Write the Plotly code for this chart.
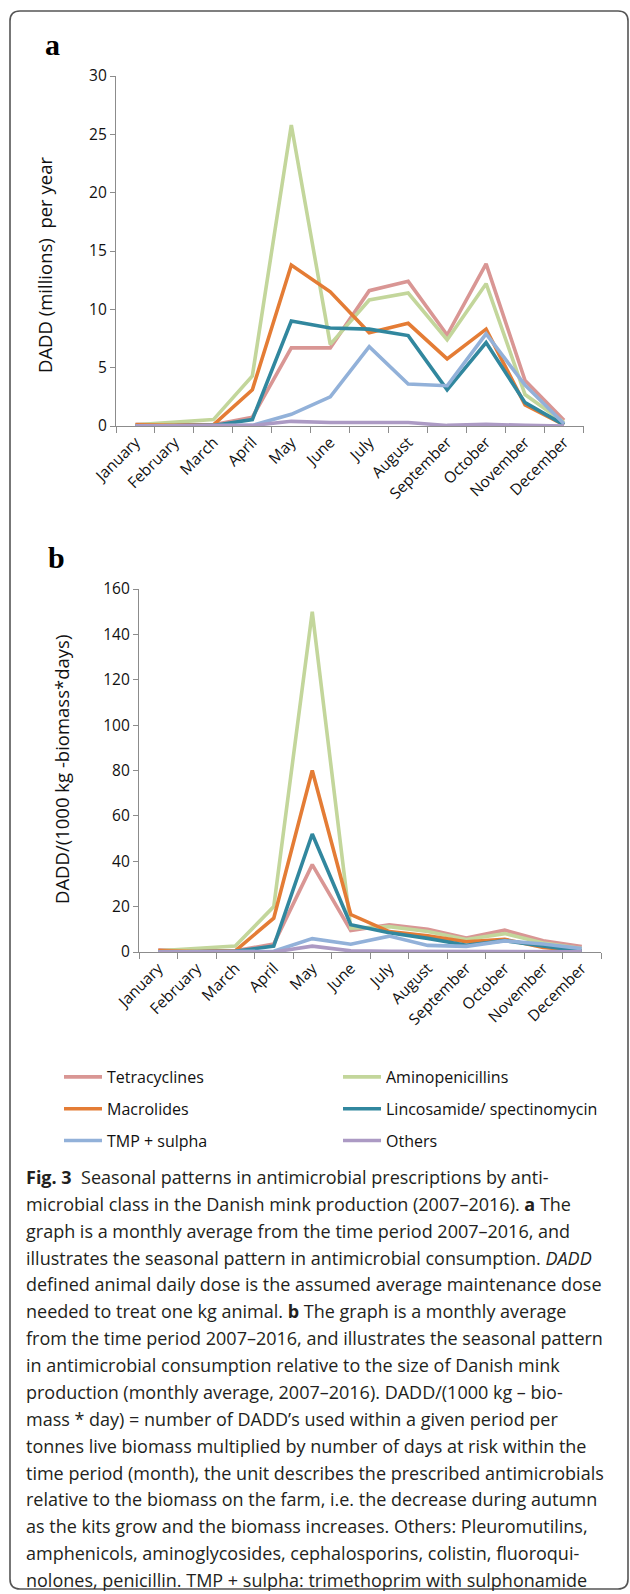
import plotly.graph_objects as go

months = ["January", "February", "March", "April", "May", "June", "July",
          "August", "September", "October", "November", "December"]

series_names = ["Tetracyclines", "Aminopenicillins", "Macrolides",
                "Lincosamide/ spectinomycin", "TMP + sulpha", "Others"]
colors = ["#D99694", "#C3D69B", "#E47C35", "#31879E", "#92B1D9", "#AC9AC4"]

# Panel a: DADD (millions) per year
a_tetra = [0.15, 0.1, 0.1, 0.75, 6.7, 6.7, 11.6, 12.4, 7.8, 13.9, 3.9, 0.5]
a_amino = [0.1, 0.3, 0.55, 4.3, 25.8, 7.0, 10.8, 11.4, 7.4, 12.2, 2.7, 0.3]
a_macro = [0.1, 0.05, 0.1, 3.1, 13.8, 11.5, 8.0, 8.8, 5.75, 8.3, 1.8, 0.1]
a_linco = [0.0, 0.0, 0.05, 0.55, 9.0, 8.4, 8.3, 7.75, 3.1, 7.15, 2.0, 0.1]
a_tmp = [0.0, 0.0, 0.0, 0.05, 1.0, 2.5, 6.8, 3.6, 3.45, 7.9, 3.5, 0.2]
a_other = [0.0, 0.0, 0.0, 0.05, 0.4, 0.3, 0.3, 0.3, 0.05, 0.15, 0.05, 0.0]

# Panel b: DADD/(1000 kg biomass*days)
b_tetra = [1.0, 0.5, 0.5, 3.5, 38.5, 9.5, 12.0, 10.0, 6.2, 9.6, 5.0, 2.4]
b_amino = [0.5, 1.5, 2.6, 20.0, 150.0, 10.5, 11.2, 9.0, 5.5, 8.1, 4.0, 1.5]
b_macro = [0.5, 0.2, 0.5, 14.9, 80.0, 16.5, 9.0, 7.1, 4.5, 5.6, 2.0, 0.5]
b_linco = [0.0, 0.0, 0.3, 2.6, 52.0, 12.0, 8.5, 6.0, 3.0, 5.0, 2.5, 0.3]
b_tmp = [0.0, 0.0, 0.0, 0.3, 5.9, 3.4, 7.0, 2.9, 2.5, 4.9, 3.5, 1.5]
b_other = [0.0, 0.0, 0.0, 0.0, 2.6, 0.5, 0.3, 0.3, 0.2, 0.2, 0.2, 0.1]

a_ticks = [0, 5, 10, 15, 20, 25, 30]
b_ticks = [0, 20, 40, 60, 80, 100, 120, 140, 160]

caption_lines = [
    "<b>Fig. 3</b>  Seasonal patterns in antimicrobial prescriptions by anti-",
    "microbial class in the Danish mink production (2007–2016). <b>a</b> The",
    "graph is a monthly average from the time period 2007–2016, and",
    "illustrates the seasonal pattern in antimicrobial consumption. <i>DADD</i>",
    "defined animal daily dose is the assumed average maintenance dose",
    "needed to treat one kg animal. <b>b</b> The graph is a monthly average",
    "from the time period 2007–2016, and illustrates the seasonal pattern",
    "in antimicrobial consumption relative to the size of Danish mink",
    "production (monthly average, 2007–2016). DADD/(1000 kg – bio-",
    "mass * day) = number of DADD’s used within a given period per",
    "tonnes live biomass multiplied by number of days at risk within the",
    "time period (month), the unit describes the prescribed antimicrobials",
    "relative to the biomass on the farm, i.e. the decrease during autumn",
    "as the kits grow and the biomass increases. Others: Pleuromutilins,",
    "amphenicols, aminoglycosides, cephalosporins, colistin, fluoroqui-",
    "nolones, penicillin. TMP + sulpha: trimethoprim with sulphonamide",
]

W, H = 630, 1594
def px(x):
    return x / W
def py(y):
    return 1 - y / H

a_data = [a_tetra, a_amino, a_macro, a_linco, a_tmp, a_other]
b_data = [b_tetra, b_amino, b_macro, b_linco, b_tmp, b_other]
legend_of = ["legend", "legend2", "legend", "legend2", "legend", "legend2"]

fig = go.Figure()
for i, name in enumerate(series_names):
    fig.add_trace(go.Scatter(
        x=months, y=a_data[i], mode="lines", name=name,
        line=dict(color=colors[i], width=3.6), xaxis="x", yaxis="y",
        legend=legend_of[i], legendgroup=name, showlegend=True))
for i, name in enumerate(series_names):
    fig.add_trace(go.Scatter(
        x=months, y=b_data[i], mode="lines", name=name,
        line=dict(color=colors[i], width=3.6), xaxis="x2", yaxis="y2",
        legendgroup=name, showlegend=False))

font_main = "Open Sans"
axcol = "#8C8C8C"
common_x = dict(type="category", showline=True, linecolor=axcol, linewidth=1.3,
                ticks="outside", tickson="boundaries", ticklen=6, tickcolor=axcol,
                tickwidth=1.2, tickangle=-45, showgrid=False, zeroline=False,
                tickfont=dict(family=font_main, size=15.5, color="#111"),
                range=[-0.5, 11.5], fixedrange=True, automargin=False)
common_y = dict(showline=True, linecolor=axcol, linewidth=1.3, ticks="outside",
                ticklen=5, tickcolor=axcol, tickwidth=1.2, showgrid=False,
                zeroline=False, automargin=False, fixedrange=True,
                tickfont=dict(family=font_main, size=15.5, color="#111"))

legend_common = dict(xanchor="left", yanchor="top", orientation="v",
                     tracegroupgap=8, itemwidth=38, bgcolor="rgba(0,0,0,0)",
                     font=dict(family=font_main, size=16, color="#111"))

fig.update_layout(
    width=W, height=H, margin=dict(l=0, r=0, t=0, b=0, autoexpand=False),
    paper_bgcolor="white", plot_bgcolor="white",
    xaxis=dict(domain=[px(116), px(583.5)], anchor="y", **common_x),
    yaxis=dict(domain=[py(426), py(76)], range=[0, 30], tickvals=a_ticks,
               anchor="x", **common_y),
    xaxis2=dict(domain=[px(139), px(601)], anchor="y2", **common_x),
    yaxis2=dict(domain=[py(952), py(589)], range=[0, 160], tickvals=b_ticks,
                anchor="x2", **common_y),
    legend=dict(x=px(59), y=py(1060), **legend_common),
    legend2=dict(x=px(338), y=py(1060), **legend_common),
    showlegend=True,
)

annotations = [
    dict(text="<b>a</b>", x=px(43), y=py(45), xanchor="left", yanchor="middle",
         font=dict(family="Liberation Serif", size=30, color="#000")),
    dict(text="<b>b</b>", x=px(46), y=py(557), xanchor="left", yanchor="middle",
         font=dict(family="Liberation Serif", size=30, color="#000")),
    dict(text="DADD (millions)  per year", x=px(45), y=py(265), textangle=-90,
         xanchor="center", yanchor="middle",
         font=dict(family=font_main, size=18.5, color="#111")),
    dict(text="DADD/(1000 kg -biomass*days)", x=px(61), y=py(770), textangle=-90,
         xanchor="center", yanchor="middle",
         font=dict(family=font_main, size=18.5, color="#111")),
]
for i, line in enumerate(caption_lines):
    annotations.append(dict(
        text=line, x=px(24), y=py(1177 + i * 26.87), xanchor="left",
        yanchor="middle", font=dict(family="Open Sans", size=18, color="#231F20")))
for a in annotations:
    a.update(xref="paper", yref="paper", showarrow=False)
fig.update_layout(annotations=annotations)

# rounded frame around the figure
L, T, R, B, r = px(10), py(11), px(628), py(1589), 10
rx, ry = r / W, r / H
path = (f"M {L+rx},{T} L {R-rx},{T} Q {R},{T} {R},{T-ry} "
        f"L {R},{B+ry} Q {R},{B} {R-rx},{B} L {L+rx},{B} "
        f"Q {L},{B} {L},{B+ry} L {L},{T-ry} Q {L},{T} {L+rx},{T} Z")
fig.add_shape(type="path", path=path, xref="paper", yref="paper",
              line=dict(color="#555", width=1.6), layer="below")

fig.write_html("out.html", config={"displayModeBar": False},
               post_script="document.body.style.margin='0';"
                           "document.body.style.overflow='hidden';")
